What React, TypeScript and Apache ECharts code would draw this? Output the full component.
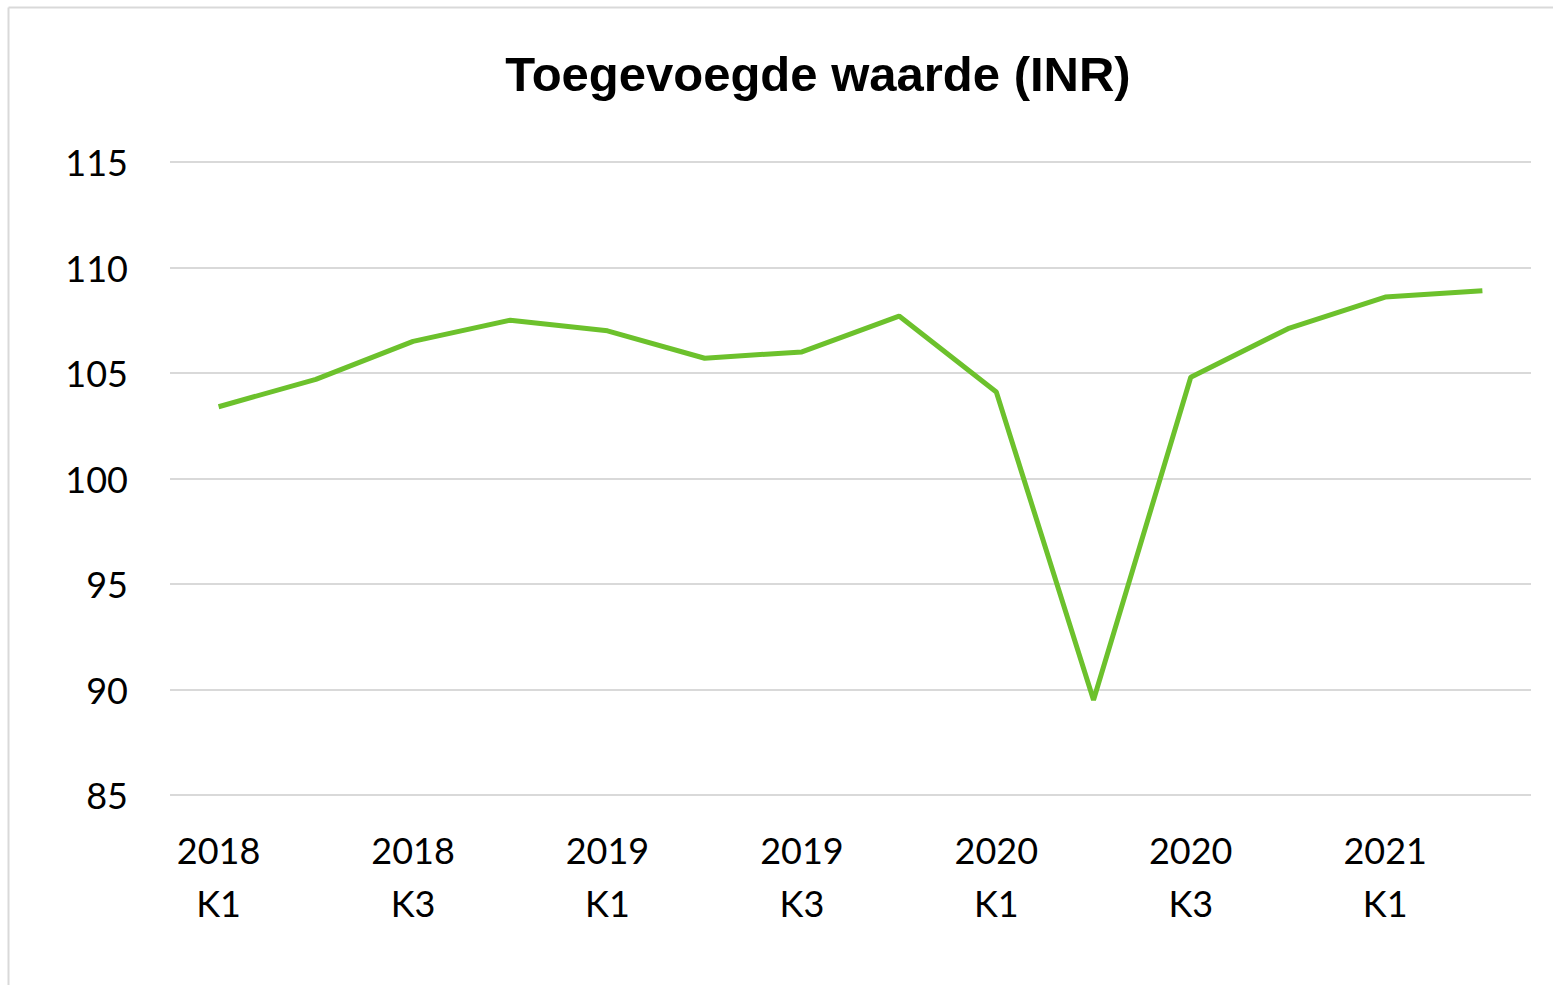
import React, { useEffect, useRef } from "react";
import * as echarts from "echarts";

const categories = [
  "2018\nK1", "2018\nK2", "2018\nK3", "2018\nK4",
  "2019\nK1", "2019\nK2", "2019\nK3", "2019\nK4",
  "2020\nK1", "2020\nK2", "2020\nK3", "2020\nK4",
  "2021\nK1", "2021\nK2",
];
const values = [103.4, 104.7, 106.5, 107.5, 107.0, 105.7, 106.0, 107.7, 104.1, 89.5, 104.8, 107.1, 108.6, 108.9];
const yMin = 85;
const yMax = 115;
const yStep = 5;

export default function App() {
  const ref = useRef<HTMLDivElement>(null);
  useEffect(() => {
    if (!ref.current) return;
    const chart = echarts.init(ref.current, null, { renderer: "svg" });
    chart.setOption({
      animation: false,
      backgroundColor: "#ffffff",
      title: {
        text: "Toegevoegde waarde (INR)",
        left: 813,
        textAlign: "center",
        top: 44,
        textStyle: {
          fontFamily: "Liberation Sans, Arial, sans-serif",
          fontWeight: "bold",
          fontSize: 49,
          color: "#000000",
        },
      },
      graphic: [
        {
          type: "line",
          shape: { x1: 8.5, y1: 7.5, x2: 1553, y2: 7.5 },
          style: { stroke: "#d9d9d9", lineWidth: 2 },
          silent: true,
        },
        {
          type: "line",
          shape: { x1: 8.5, y1: 7.5, x2: 8.5, y2: 985 },
          style: { stroke: "#d9d9d9", lineWidth: 2 },
          silent: true,
        },
      ],
      grid: { left: 170, right: 22, top: 162, bottom: 190, containLabel: false },
      xAxis: {
        type: "category",
        data: categories,
        boundaryGap: true,
        axisLine: { show: false },
        axisTick: { show: false },
        axisLabel: {
          interval: 1,
          margin: 28,
          fontFamily: "Lato, sans-serif",
          fontSize: 36,
          lineHeight: 53,
          color: "#000000",
        },
      },
      yAxis: {
        type: "value",
        min: yMin,
        max: yMax,
        interval: yStep,
        axisLine: { show: false },
        axisTick: { show: false },
        axisLabel: {
          margin: 42,
          fontFamily: "Lato, sans-serif",
          fontSize: 36,
          color: "#000000",
        },
        splitLine: { lineStyle: { color: "#d9d9d9", width: 2 } },
      },
      series: [
        {
          type: "line",
          data: values,
          symbol: "none",
          lineStyle: { color: "#6cc12c", width: 5 },
          itemStyle: { color: "#6cc12c" },
        },
      ],
    });
    return () => chart.dispose();
  }, []);
  return (
    <div
      ref={ref}
      style={{ position: "fixed", left: 0, top: 0, width: 1553, height: 985 }}
    />
  );
}
